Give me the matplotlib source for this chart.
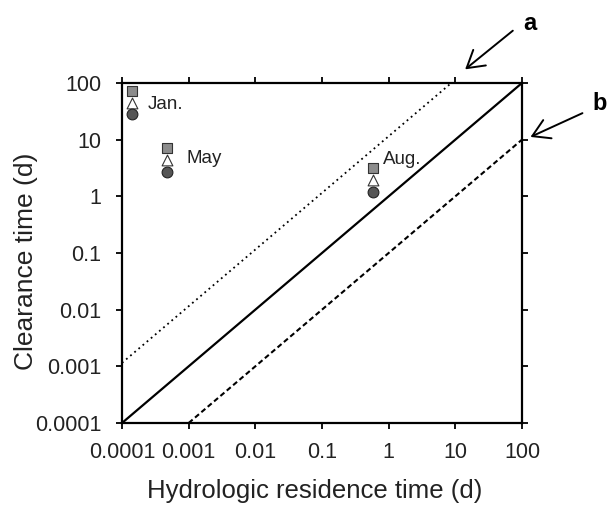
import matplotlib
matplotlib.use("Agg")
import matplotlib.pyplot as plt
import numpy as np

plt.rcParams['font.family'] = ['Liberation Sans', 'DejaVu Sans']

# 월별 자료 (수리학적 체류시간 vs 제거시간)
months = ["Jan.", "May", "Aug."]
residence = [1.4e-4, 4.7e-4, 0.58]
clear_square = [73, 7.0, 3.1]
clear_triangle = [45, 4.3, 1.95]
clear_circle = [28, 2.7, 1.2]

# 기준선
line_x = [1e-4, 100]
line_solid = [1e-4, 100]
dot_x = [1e-4, 8.7]
dot_y = [1.15e-3, 100]
dash_x = [1e-3, 100]
dash_y = [1e-4, 10]

ticks = [1e-4, 1e-3, 1e-2, 1e-1, 1, 10, 100]
tick_labels = ["0.0001", "0.001", "0.01", "0.1", "1", "10", "100"]

fig = plt.figure(figsize=(6.1, 5.07), dpi=100)
ax = fig.add_axes([0.2, 0.1657, 0.6557, 0.6706])

ax.plot(line_x, line_solid, color='black', lw=1.6)
ax.plot(dot_x, dot_y, color='black', lw=1.3, linestyle=(0, (1, 2)))
ax.plot(dash_x, dash_y, color='black', lw=1.5, linestyle=(0, (2.5, 1.5)))

ax.scatter(residence, clear_square, marker='s', s=55, facecolor='#8c8c8c',
           edgecolor='#333333', linewidth=0.8, zorder=3)
ax.scatter(residence, clear_triangle, marker='^', s=60, facecolor='white',
           edgecolor='#333333', linewidth=0.8, zorder=3)
ax.scatter(residence, clear_circle, marker='o', s=60, facecolor='#555555',
           edgecolor='#222222', linewidth=0.8, zorder=3)

# 월 이름 라벨
offsets = [(16, -2), (20, 2), (10, 20)]
for m, xv, yv, off in zip(months, residence, clear_triangle, offsets):
    ax.annotate(m, (xv, yv), xytext=off, textcoords='offset pixels',
                fontsize=13.5, va='center', ha='left', color='#222222')

ax.set_xscale('log')
ax.set_yscale('log')
ax.set_xlim(1e-4, 100)
ax.set_ylim(1e-4, 100)
ax.minorticks_off()
ax.set_xticks(ticks)
ax.set_xticklabels(tick_labels)
ax.set_yticks(ticks)
ax.set_yticklabels(tick_labels)
ax.tick_params(axis='both', which='major', direction='out', length=4, width=1.3,
               labelsize=15.5, colors='black', labelcolor='#222222')
ax.tick_params(axis='x', pad=10, top=True)
ax.tick_params(axis='y', pad=11, right=True)
for s in ax.spines.values():
    s.set_linewidth(1.6)

ax.set_xlabel("Hydrologic residence time (d)", fontsize=18.5, color='#222222')
ax.set_ylabel("Clearance time (d)", fontsize=19, color='#222222')
ax.xaxis.set_label_coords(0.4825, -0.165)
ax.yaxis.set_label_coords(-0.21, 0.476)

# a, b 화살표
ax.annotate("", xy=(0.8525, 1.035), xytext=(0.9825, 1.159), xycoords='axes fraction',
            textcoords='axes fraction', annotation_clip=False,
            arrowprops=dict(arrowstyle='->,head_length=0.5,head_width=0.3', lw=1.4,
                            color='black', mutation_scale=24))
ax.text(1.02, 1.176, "a", transform=ax.transAxes, fontsize=17, fontweight='bold',
        ha='center', va='center')
ax.annotate("", xy=(1.015, 0.838), xytext=(1.1575, 0.9147), xycoords='axes fraction',
            textcoords='axes fraction', annotation_clip=False,
            arrowprops=dict(arrowstyle='->,head_length=0.5,head_width=0.3', lw=1.4,
                            color='black', mutation_scale=24))
ax.text(1.195, 0.941, "b", transform=ax.transAxes, fontsize=17, fontweight='bold',
        ha='center', va='center')

fig.savefig("out.png", dpi=100)
